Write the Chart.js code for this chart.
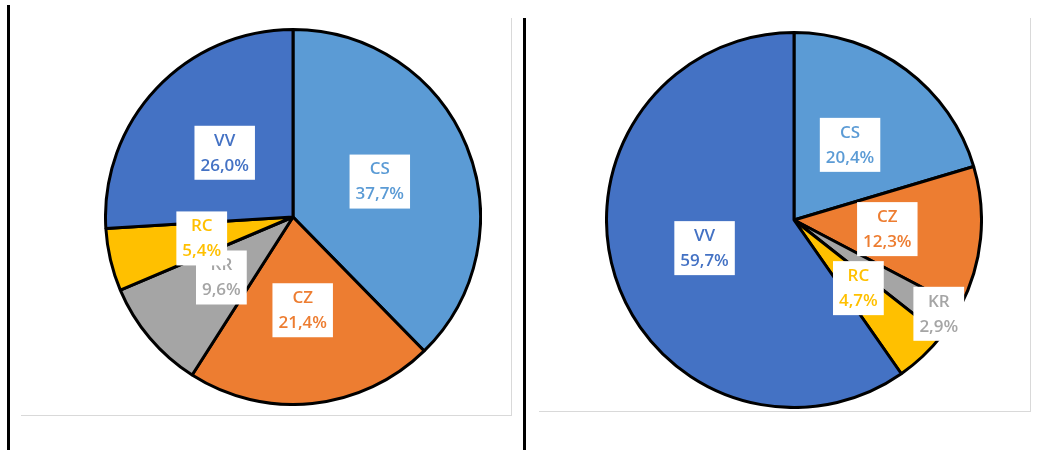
<!DOCTYPE html>
<html>
<head>
<meta charset="utf-8">
<script src="https://cdn.jsdelivr.net/npm/chart.js@4.4.1/dist/chart.umd.min.js"></script>
<style>
  body { margin: 0; background: #fff; width: 1037px; height: 450px; position: relative; overflow: hidden; }
  .vline { position: absolute; width: 3px; background: #000; }
  .frame { position: absolute; border-right: 1px solid #d9d9d9; border-bottom: 1px solid #d9d9d9; }
  .pie { position: absolute; width: 378px; height: 378px; }
</style>
</head>
<body>
<div class="vline" style="left:7px; top:5px; height:445px;"></div>
<div class="vline" style="left:523px; top:18px; height:432px;"></div>
<div class="frame" style="left:21px; top:18px; width:490px; height:397px;"></div>
<div class="frame" style="left:539px; top:18px; width:491px; height:393px;"></div>
<div class="pie" style="left:104px; top:28px;"><canvas id="Chart_A" width="378" height="378"></canvas></div>
<div class="pie" style="left:605px; top:31px;"><canvas id="Chart_B" width="378" height="378"></canvas></div>
<script>
// Données des deux camemberts
const categories = ['CS', 'CZ', 'KR', 'RC', 'VV'];
const valeursA = [37.7, 21.4, 9.6, 5.4, 26.0];
const valeursB = [20.4, 12.3, 2.9, 4.7, 59.7];
const couleurs = ['#5B9BD5', '#ED7D31', '#A5A5A5', '#FFC000', '#4472C4'];
const couleursTexte = ['#5B9BD5', '#ED7D31', '#A5A5A5', '#FFC000', '#4472C4'];

// Etiquettes dans des boîtes blanches
const etiquettes = {
    id: 'etiquettes',
    afterDatasetsDraw(chart, args, opts) {
        const ctx = chart.ctx;
        const meta = chart.getDatasetMeta(0);
        const data = chart.data.datasets[0].data;
        const rayons = opts.rayons || {};
        ctx.save();
        ctx.font = '600 17px "Open Sans"';
        ctx.textAlign = 'center';
        ctx.textBaseline = 'middle';
        meta.data.forEach((arc, i) => {
            let pos = arc.tooltipPosition();
            if (rayons[i]) {
                // étiquette poussée vers l'extérieur (comme Excel "ajustement optimal")
                const a = (arc.startAngle + arc.endAngle) / 2;
                const r = arc.outerRadius * rayons[i];
                pos = { x: arc.x + Math.cos(a) * r, y: arc.y + Math.sin(a) * r };
            }
            const l1 = chart.data.labels[i];
            const l2 = data[i].toFixed(1).replace('.', ',') + '%';
            const w = Math.max(ctx.measureText(l1).width, ctx.measureText(l2).width) + 12;
            const h = 54;
            ctx.fillStyle = '#fff';
            ctx.fillRect(pos.x - w / 2, pos.y - h / 2, w, h);
            ctx.fillStyle = couleursTexte[i];
            ctx.fillText(l1, pos.x, pos.y - 12);
            ctx.fillText(l2, pos.x, pos.y + 13);
        });
        ctx.restore();
    }
};

function camembert(id, valeurs, rayons) {
    return new Chart(document.getElementById(id).getContext('2d'), {
        type: 'pie',
        data: {
            labels: categories,
            datasets: [{
                data: valeurs,
                backgroundColor: couleurs,
                borderColor: '#000',
                borderWidth: 3
            }]
        },
        options: {
            responsive: false,
            animation: false,
            layout: { padding: 0 },
            plugins: {
                legend: { display: false },
                tooltip: { enabled: false },
                etiquettes: { rayons: rayons }
            }
        },
        plugins: [etiquettes]
    });
}

const ChartA = camembert('Chart_A', valeursA, {});
const ChartB = camembert('Chart_B', valeursB, { 2: 0.92 });
</script>
</body>
</html>
